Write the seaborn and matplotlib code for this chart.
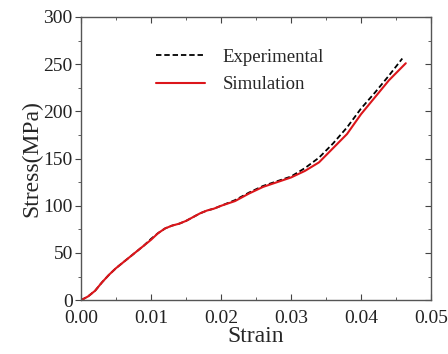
import matplotlib
matplotlib.use("Agg")
import matplotlib.pyplot as plt
import seaborn as sns
import pandas as pd
from matplotlib.ticker import MultipleLocator
import matplotlib.transforms as mtransforms

# values
strain_sim = [0.0, 0.001, 0.002, 0.003, 0.004, 0.005, 0.006, 0.007, 0.008, 0.009,
              0.010, 0.011, 0.012, 0.013, 0.014, 0.015, 0.016, 0.017, 0.018, 0.019,
              0.020, 0.022, 0.024, 0.026, 0.028, 0.030, 0.032, 0.034, 0.036, 0.038,
              0.040, 0.042, 0.044, 0.0464]
stress_sim = [0, 4, 10, 19, 27, 34, 40, 46, 52, 58,
              64, 71, 76, 79, 81, 84, 88, 92, 95, 97,
              100, 105, 113, 120, 125, 130, 137, 146, 161, 176,
              197, 215, 233, 251]

strain_exp = [0.0, 0.001, 0.002, 0.003, 0.004, 0.005, 0.006, 0.007, 0.008, 0.009,
              0.010, 0.011, 0.012, 0.013, 0.014, 0.015, 0.016, 0.017, 0.018, 0.019,
              0.020, 0.022, 0.024, 0.026, 0.028, 0.030, 0.032, 0.034, 0.036, 0.038,
              0.040, 0.042, 0.044, 0.0459]
stress_exp = [0, 4, 10, 19, 27, 34, 40, 46, 52, 58,
              65, 71, 76, 79, 81, 84, 88, 92, 95, 97,
              100, 106, 114, 121, 126, 131, 140, 151, 166, 183,
              203, 220, 238, 256]

sns.set_style("ticks")
plt.rcParams['font.family'] = ['Liberation Serif', 'DejaVu Serif']

df_exp = pd.DataFrame({'Strain': strain_exp, 'Stress': stress_exp})
df_sim = pd.DataFrame({'Strain': strain_sim, 'Stress': stress_sim})

fig, ax = plt.subplots(figsize=(4.48, 3.54), dpi=100)
fig.subplots_adjust(left=0.181, right=0.962, top=0.952, bottom=0.152)

sns.lineplot(data=df_exp, x='Strain', y='Stress', ax=ax, color='black',
             linestyle=(0, (3, 1.6)), linewidth=1.3, label='Experimental')
sns.lineplot(data=df_sim, x='Strain', y='Stress', ax=ax, color='#dc161b',
             linewidth=1.5, label='Simulation')

ax.set_xlim(0, 0.05)
ax.set_ylim(0, 300)
ax.xaxis.set_major_locator(MultipleLocator(0.01))
ax.xaxis.set_minor_locator(MultipleLocator(0.005))
ax.yaxis.set_major_locator(MultipleLocator(50))
ax.yaxis.set_minor_locator(MultipleLocator(25))
ax.set_xticklabels([f'{v:.2f}' for v in ax.get_xticks()])

ax.set_xlabel('Strain', fontsize=17, labelpad=-1)
ax.set_ylabel('Stress(MPa)', fontsize=17, labelpad=1)

for s in ax.spines.values():
    s.set_color('#555555')
    s.set_linewidth(1.0)

ax.tick_params(axis='both', which='both', colors='#444444', labelcolor='#222222',
               labelsize=14, top=True, right=True)
ax.tick_params(axis='y', which='both', direction='out', pad=2)
ax.tick_params(axis='x', which='both', direction='in', pad=7)
ax.tick_params(which='major', length=4)
ax.tick_params(which='minor', length=2.5)
# right side ticks point inward
for t in ax.yaxis.get_major_ticks() + ax.yaxis.get_minor_ticks():
    t.tick2line.set_marker(matplotlib.lines.TICKLEFT)

# lift the "0" on the y axis a little so it clears "0.00"
lab0 = ax.get_yticklabels()[0]
lab0.set_transform(lab0.get_transform() + mtransforms.ScaledTranslation(0, 2 / 72, fig.dpi_scale_trans))

leg = ax.legend(loc='upper left', bbox_to_anchor=(0.166, 0.948), frameon=False,
                fontsize=13.5, handlelength=2.6, handletextpad=0.95, labelspacing=0.55)

fig.savefig('out.png', dpi=100)
